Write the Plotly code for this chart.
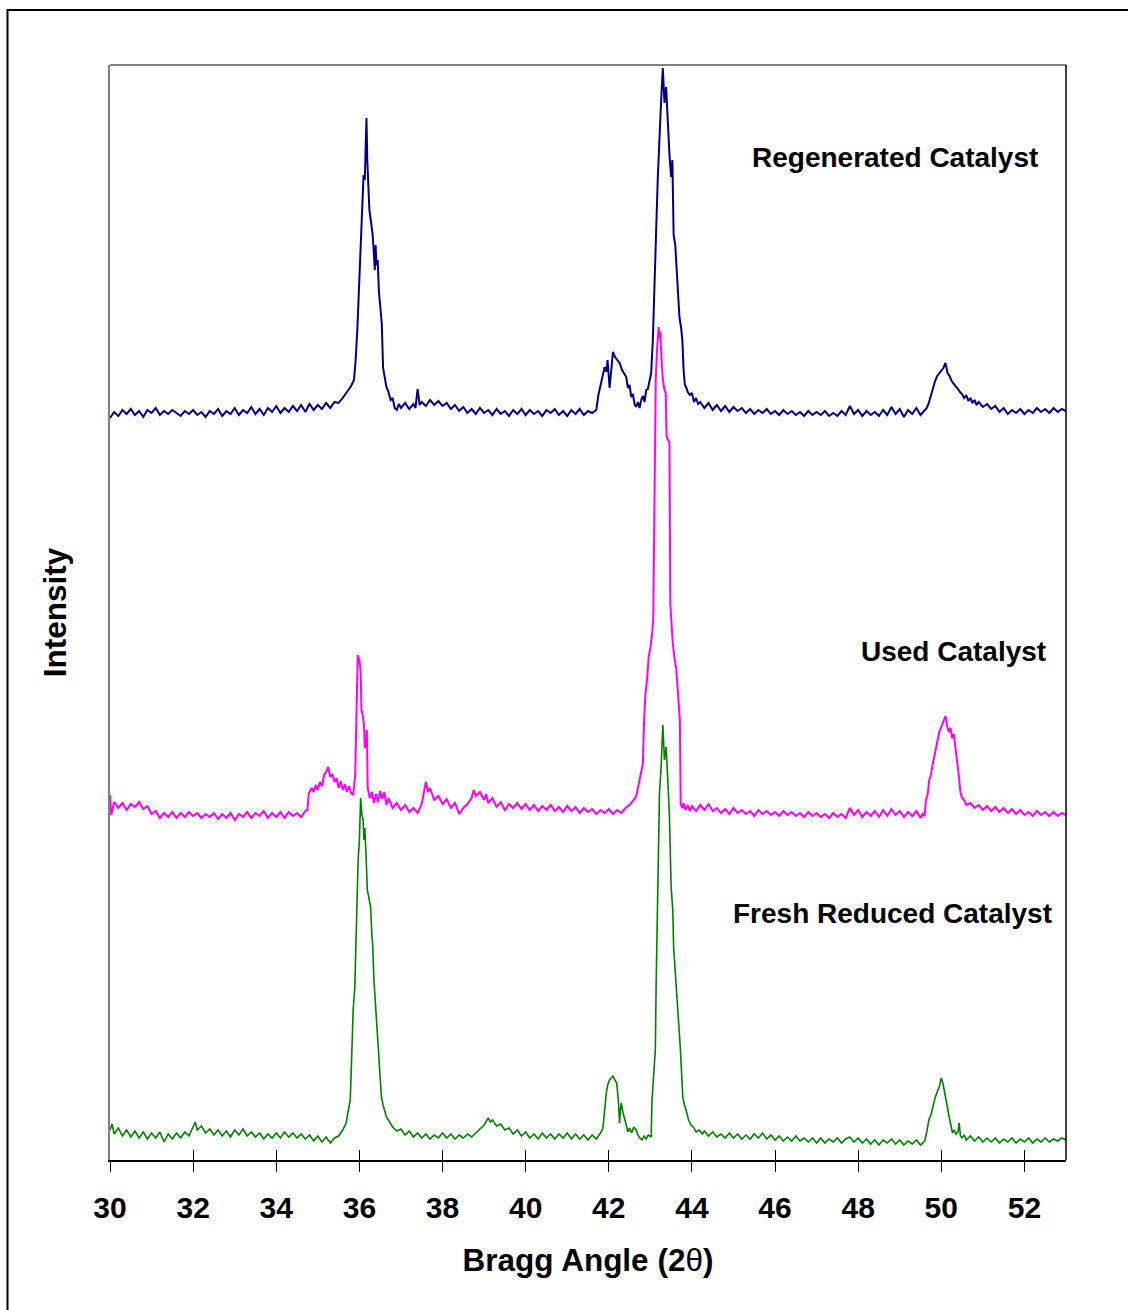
import plotly.graph_objects as go

# ---- data: (2-theta, relative intensity) ----
regen_pts = [
 (30.0,742),(30.1,748),(30.2,744),(30.3,750),(30.4,746),(30.5,751),(30.6,745),(30.7,749),(30.8,743),(30.9,750),
 (31.0,747),(31.1,752),(31.2,745),(31.3,749),(31.4,746),(31.5,750),(31.6,747),(31.7,744),(31.8,749),(31.9,746),
 (32.0,750),(32.1,745),(32.2,748),(32.3,743),(32.4,749),(32.5,746),(32.6,751),(32.7,744),(32.8,749),(32.9,746),
 (33.0,752),(33.1,745),(33.2,750),(33.3,747),(33.4,753),(33.5,746),(33.6,751),(33.7,745),(33.8,752),(33.9,748),
 (34.0,754),(34.1,747),(34.2,752),(34.3,748),(34.4,754),(34.5,749),(34.6,755),(34.7,748),(34.8,756),(34.9,750),
 (35.0,755),(35.1,751),(35.2,757),(35.3,752),(35.4,758),(35.5,757),(35.6,762),(35.7,768),(35.8,774),(35.87,780),
 (35.91,800),(35.95,830),(35.99,870),(36.03,920),(36.07,965),(36.1,985),(36.13,980),(36.15,1020),(36.17,1042),(36.19,1000),
 (36.21,983),(36.24,950),(36.28,938),(36.32,925),(36.35,905),(36.37,890),(36.39,915),(36.41,895),(36.44,900),(36.47,868),
 (36.51,850),(36.54,835),(36.57,792),(36.61,780),(36.65,773),(36.7,768),(36.75,760),(36.8,762),(36.85,752),(36.9,750),
 (36.95,756),(37.0,752),(37.1,757),(37.2,751),(37.3,756),(37.35,752),(37.4,771),(37.45,755),(37.5,758),(37.6,754),
 (37.7,760),(37.8,755),(37.9,759),(38.0,754),(38.1,757),(38.2,751),(38.3,755),(38.4,749),(38.5,753),(38.6,747),
 (38.7,751),(38.8,746),(38.9,752),(39.0,747),(39.1,750),(39.2,745),(39.3,751),(39.4,746),(39.5,749),(39.6,744),
 (39.7,750),(39.8,746),(39.9,751),(40.0,745),(40.1,750),(40.2,746),(40.3,749),(40.4,744),(40.5,750),(40.6,747),
 (40.7,751),(40.8,745),(40.9,749),(41.0,744),(41.1,750),(41.2,746),(41.3,751),(41.4,745),(41.5,749),(41.6,747),
 (41.7,750),(41.75,765),(41.8,775),(41.85,782),(41.9,793),(41.94,788),(41.97,800),(42.02,772),(42.06,795),(42.1,808),
 (42.15,803),(42.2,800),(42.26,797),(42.32,790),(42.38,786),(42.42,783),(42.46,772),(42.5,775),(42.54,763),(42.58,766),
 (42.62,756),(42.66,753),(42.7,758),(42.74,752),(42.78,760),(42.82,764),(42.86,758),(42.9,770),(42.94,771),(42.98,778),
 (43.02,787),(43.06,820),(43.1,887),(43.14,930),(43.18,983),(43.22,1027),(43.26,1060),(43.3,1092),(43.32,1070),(43.34,1057),
 (43.38,1073),(43.42,1037),(43.46,1005),(43.5,983),(43.53,1000),(43.56,925),(43.6,915),(43.63,893),(43.67,860),(43.7,843),
 (43.74,832),(43.77,820),(43.8,790),(43.83,775),(43.86,773),(43.9,768),(43.95,765),(44.0,767),(44.05,758),(44.1,762),
 (44.15,756),(44.2,758),(44.3,752),(44.4,757),(44.5,750),(44.6,755),(44.7,749),(44.8,754),(44.9,748),(45.0,753),
 (45.1,749),(45.2,752),(45.3,747),(45.4,751),(45.5,746),(45.6,750),(45.7,747),(45.8,751),(45.9,746),(46.0,749),
 (46.1,745),(46.2,750),(46.3,746),(46.4,749),(46.5,745),(46.6,748),(46.7,744),(46.8,749),(46.9,745),(47.0,748),
 (47.1,745),(47.2,749),(47.3,744),(47.4,747),(47.5,744),(47.6,749),(47.7,745),(47.8,754),(47.9,746),(48.0,750),
 (48.1,744),(48.2,749),(48.3,745),(48.4,748),(48.5,744),(48.6,750),(48.7,745),(48.8,753),(48.9,746),(49.0,751),
 (49.1,743),(49.2,750),(49.3,746),(49.4,752),(49.5,745),(49.6,750),(49.65,752),(49.7,757),(49.75,765),(49.8,772),
 (49.85,779),(49.9,784),(49.95,787),(50.0,790),(50.05,792),(50.1,797),(50.15,787),(50.2,784),(50.25,779),(50.3,776),
 (50.35,774),(50.4,771),(50.45,768),(50.5,766),(50.55,762),(50.6,765),(50.65,759),(50.7,762),(50.75,757),(50.8,760),
 (50.85,755),(50.9,758),(51.0,753),(51.1,756),(51.2,751),(51.3,754),(51.4,748),(51.5,752),(51.6,746),(51.7,750),
 (51.8,747),(51.9,751),(52.0,746),(52.1,750),(52.2,747),(52.3,752),(52.4,748),(52.5,751),(52.6,747),(52.7,752),
 (52.8,748),(52.9,751),(53.0,749),
]

used_pts = [
 (30.0,365),(30.03,345),(30.1,358),(30.2,352),(30.3,357),(30.4,350),(30.5,356),(30.6,353),(30.7,358),(30.8,351),
 (30.9,354),(31.0,346),(31.1,349),(31.2,342),(31.3,347),(31.4,343),(31.5,348),(31.6,342),(31.7,347),(31.8,343),
 (31.9,348),(32.0,344),(32.1,347),(32.2,342),(32.3,346),(32.4,343),(32.5,347),(32.6,341),(32.7,346),(32.8,342),
 (32.9,347),(33.0,340),(33.1,346),(33.2,343),(33.3,348),(33.4,342),(33.5,347),(33.6,344),(33.7,349),(33.8,342),
 (33.9,347),(34.0,343),(34.1,348),(34.2,342),(34.3,348),(34.4,344),(34.5,347),(34.6,343),(34.7,349),(34.75,350),
 (34.78,366),(34.85,372),(34.9,368),(34.95,375),(35.0,370),(35.05,378),(35.1,374),(35.15,385),(35.2,388),(35.25,393),
 (35.3,383),(35.35,386),(35.4,378),(35.45,382),(35.5,372),(35.55,379),(35.6,370),(35.65,376),(35.7,368),(35.75,374),
 (35.8,367),(35.85,365),(35.9,385),(35.93,440),(35.96,505),(36.0,500),(36.03,488),(36.05,450),(36.08,445),(36.11,435),
 (36.13,412),(36.16,418),(36.18,430),(36.2,372),(36.25,362),(36.3,368),(36.35,357),(36.4,366),(36.45,358),(36.5,369),
 (36.55,361),(36.6,368),(36.65,355),(36.7,362),(36.8,352),(36.9,357),(37.0,350),(37.1,355),(37.2,348),(37.3,352),
 (37.4,347),(37.5,356),(37.6,378),(37.65,368),(37.7,372),(37.8,360),(37.9,364),(38.0,356),(38.1,361),(38.2,352),
 (38.3,357),(38.4,346),(38.5,352),(38.6,356),(38.7,362),(38.75,370),(38.8,364),(38.9,368),(39.0,360),(39.05,366),
 (39.1,357),(39.2,362),(39.3,353),(39.4,358),(39.5,350),(39.6,356),(39.7,352),(39.8,357),(39.9,351),(40.0,356),
 (40.1,350),(40.2,355),(40.3,349),(40.4,354),(40.5,350),(40.6,355),(40.7,349),(40.8,353),(40.9,348),(41.0,354),
 (41.1,349),(41.2,353),(41.3,347),(41.4,352),(41.5,348),(41.6,351),(41.7,346),(41.8,350),(41.9,347),(42.0,351),
 (42.1,346),(42.2,350),(42.3,347),(42.4,352),(42.5,355),(42.6,360),(42.66,364),(42.7,372),(42.74,381),(42.78,388),
 (42.82,396),(42.85,440),(42.88,465),(42.92,480),(42.96,503),(43.0,512),(43.04,525),(43.07,542),(43.1,690),(43.13,780),
 (43.16,810),(43.2,833),(43.22,822),(43.24,828),(43.27,800),(43.3,781),(43.34,770),(43.37,767),(43.39,724),(43.43,720),
 (43.46,717),(43.48,556),(43.51,530),(43.54,517),(43.58,502),(43.62,492),(43.66,470),(43.69,442),(43.71,440),(43.73,356),
 (43.77,352),(43.8,357),(43.85,350),(43.9,355),(43.95,349),(44.0,354),(44.1,349),(44.2,355),(44.3,350),(44.4,356),
 (44.5,349),(44.6,352),(44.7,347),(44.8,351),(44.9,346),(45.0,352),(45.1,347),(45.2,350),(45.3,346),(45.4,349),
 (45.5,344),(45.6,350),(45.7,346),(45.8,349),(45.9,345),(46.0,348),(46.1,344),(46.2,349),(46.3,345),(46.4,348),
 (46.5,344),(46.6,347),(46.7,343),(46.8,348),(46.9,344),(47.0,347),(47.1,343),(47.2,346),(47.3,342),(47.4,347),
 (47.5,343),(47.6,346),(47.7,342),(47.8,352),(47.9,345),(48.0,350),(48.1,343),(48.2,348),(48.3,344),(48.4,349),
 (48.5,343),(48.6,350),(48.7,344),(48.8,351),(48.9,345),(49.0,349),(49.1,343),(49.2,348),(49.3,344),(49.4,349),
 (49.5,342),(49.55,346),(49.6,344),(49.63,360),(49.67,365),(49.71,380),(49.75,385),(49.79,395),(49.83,403),(49.87,412),
 (49.91,420),(49.95,428),(49.99,432),(50.03,436),(50.07,440),(50.1,444),(50.14,434),(50.18,428),(50.22,432),(50.26,422),
 (50.3,426),(50.34,414),(50.38,397),(50.42,385),(50.46,368),(50.5,362),(50.55,360),(50.6,355),(50.7,357),(50.8,352),
 (50.9,355),(51.0,350),(51.1,354),(51.2,349),(51.3,353),(51.4,348),(51.5,352),(51.6,347),(51.7,351),(51.8,346),
 (51.9,350),(52.0,345),(52.1,348),(52.2,344),(52.3,349),(52.4,345),(52.5,348),(52.6,344),(52.7,348),(52.8,344),
 (52.9,347),(53.0,345),
]

fresh_pts = [
 (30.0,30),(30.05,36),(30.1,26),(30.2,32),(30.3,24),(30.4,30),(30.5,23),(30.6,29),(30.7,22),(30.8,28),
 (30.9,21),(31.0,27),(31.1,22),(31.2,28),(31.3,18),(31.4,26),(31.5,21),(31.6,27),(31.7,22),(31.8,28),
 (31.9,24),(32.0,33),(32.05,38),(32.1,30),(32.2,34),(32.3,27),(32.4,31),(32.5,25),(32.6,30),(32.7,24),
 (32.8,29),(32.9,23),(33.0,30),(33.1,25),(33.2,31),(33.3,24),(33.4,28),(33.5,23),(33.6,27),(33.7,21),
 (33.8,26),(33.9,22),(34.0,27),(34.1,22),(34.2,28),(34.3,23),(34.4,27),(34.5,22),(34.6,26),(34.7,21),
 (34.8,25),(34.9,19),(35.0,24),(35.1,18),(35.2,23),(35.3,17),(35.4,22),(35.5,24),(35.6,30),(35.68,37),
 (35.74,50),(35.78,60),(35.81,97),(35.85,150),(35.89,173),(35.93,250),(35.97,300),(36.0,320),(36.03,362),(36.06,345),
 (36.09,340),(36.11,320),(36.13,332),(36.16,305),(36.19,270),(36.23,262),(36.27,253),(36.3,225),(36.32,215),(36.35,180),
 (36.38,160),(36.42,130),(36.46,110),(36.5,80),(36.53,63),(36.57,55),(36.61,48),(36.65,43),(36.7,40),(36.75,36),
 (36.8,33),(36.9,29),(37.0,31),(37.1,25),(37.2,29),(37.3,23),(37.4,27),(37.5,22),(37.6,26),(37.7,21),
 (37.8,25),(37.9,22),(38.0,27),(38.1,22),(38.2,26),(38.3,21),(38.4,25),(38.5,22),(38.6,26),(38.7,23),
 (38.8,27),(38.9,30),(39.0,35),(39.1,42),(39.15,38),(39.2,40),(39.3,34),(39.4,36),(39.5,30),(39.6,32),
 (39.7,26),(39.8,30),(39.9,24),(40.0,28),(40.1,22),(40.2,26),(40.3,21),(40.4,27),(40.5,22),(40.6,26),
 (40.7,21),(40.8,26),(40.9,22),(41.0,27),(41.1,21),(41.2,26),(41.3,21),(41.4,25),(41.5,20),(41.6,25),
 (41.7,21),(41.75,24),(41.8,27),(41.86,32),(41.9,50),(41.94,67),(41.98,76),(42.02,80),(42.06,82),(42.1,84),
 (42.15,80),(42.19,77),(42.23,60),(42.26,37),(42.28,50),(42.3,57),(42.34,48),(42.38,40),(42.42,35),(42.46,28),
 (42.5,32),(42.55,27),(42.6,33),(42.66,30),(42.7,25),(42.75,22),(42.8,20),(42.85,24),(42.9,21),(42.95,25),
 (43.02,23),(43.04,60),(43.06,73),(43.09,90),(43.12,110),(43.14,177),(43.18,260),(43.22,367),(43.26,393),(43.3,435),
 (43.34,400),(43.38,413),(43.42,380),(43.46,343),(43.5,273),(43.54,250),(43.56,213),(43.6,190),(43.66,157),(43.72,113),
 (43.76,80),(43.78,63),(43.82,55),(43.86,50),(43.92,40),(43.98,35),(44.05,32),(44.1,28),(44.18,30),(44.25,26),
 (44.3,29),(44.4,24),(44.5,28),(44.6,23),(44.7,26),(44.8,22),(44.9,27),(45.0,22),(45.1,26),(45.2,21),
 (45.3,25),(45.4,21),(45.5,26),(45.6,22),(45.7,27),(45.8,21),(45.9,25),(46.0,20),(46.1,24),(46.2,19),
 (46.3,23),(46.4,19),(46.5,24),(46.6,19),(46.7,22),(46.8,18),(46.9,22),(47.0,17),(47.1,22),(47.2,17),
 (47.3,21),(47.4,18),(47.5,22),(47.6,17),(47.7,21),(47.8,23),(47.9,18),(48.0,22),(48.1,17),(48.2,21),
 (48.3,16),(48.4,20),(48.5,15),(48.6,20),(48.7,17),(48.8,21),(48.9,16),(49.0,20),(49.1,15),(49.2,19),
 (49.3,16),(49.4,20),(49.5,15),(49.6,19),(49.65,28),(49.7,40),(49.75,45),(49.8,55),(49.85,62),(49.9,68),
 (49.95,73),(50.0,82),(50.03,78),(50.07,70),(50.11,60),(50.15,50),(50.19,43),(50.23,35),(50.27,27),(50.31,30),
 (50.35,26),(50.4,28),(50.43,37),(50.46,24),(50.5,22),(50.55,25),(50.6,20),(50.7,24),(50.8,19),(50.9,23),
 (51.0,18),(51.1,22),(51.2,18),(51.3,22),(51.4,17),(51.5,21),(51.6,18),(51.7,22),(51.8,17),(51.9,21),
 (52.0,18),(52.1,22),(52.2,17),(52.3,21),(52.4,18),(52.5,22),(52.6,18),(52.7,21),(52.8,19),(52.9,22),
 (53.0,20),
]

series_names = ["Regenerated Catalyst", "Used Catalyst", "Fresh Reduced Catalyst"]
series_colors = ["#000080", "#FF00FF", "#008000"]
series_widths = [2, 2, 1.6]
tick_vals = [30, 32, 34, 36, 38, 40, 42, 44, 46, 48, 50, 52]
label_x = [48.89, 50.29, 48.83]
label_y = [1003, 509, 247]

FONT = "Liberation Sans, Arial, sans-serif"

fig = go.Figure()
for pts, name, color, w in zip([regen_pts, used_pts, fresh_pts], series_names, series_colors, series_widths):
    xs = [p[0] for p in pts]
    ys = [p[1] for p in pts]
    fig.add_trace(go.Scatter(x=xs, y=ys, mode="lines", name=name,
                             line=dict(color=color, width=w), showlegend=False))

# invisible trace on overlay axis for inside ticks
fig.add_trace(go.Scatter(x=[30, 53], y=[0, 0], xaxis="x2", mode="lines",
                         line=dict(width=0), showlegend=False, hoverinfo="skip"))

for name, lx, ly in zip(series_names, label_x, label_y):
    fig.add_annotation(x=lx, y=ly, text="<b>%s</b>" % name, showarrow=False,
                       font=dict(family=FONT, size=28, color="black"), xanchor="center", yanchor="middle")

fig.update_layout(
    width=1128, height=1310,
    margin=dict(l=110, r=62, t=65, b=150),
    paper_bgcolor="white", plot_bgcolor="white",
    font=dict(family=FONT, color="black"),
    xaxis=dict(range=[30, 53], tickvals=tick_vals, ticks="outside", ticklen=10, tickwidth=1,
               tickcolor="black", showline=True, linecolor="black", linewidth=2, mirror=False,
               showgrid=False, zeroline=False, tickfont=dict(family=FONT, size=30),
               ticktext=["<b>%d</b>" % v for v in tick_vals], ticklabelstandoff=10,
               title=dict(text="<b>Bragg Angle (2</b>θ<b>)</b>", font=dict(family=FONT, size=31.5), standoff=26)),
    xaxis2=dict(range=[30, 53], overlaying="x", anchor="y", side="bottom", tickvals=tick_vals,
                ticks="inside", ticklen=10, tickwidth=1, tickcolor="black", showticklabels=False,
                showgrid=False, zeroline=False, showline=False),
    yaxis=dict(range=[0, 1095], showticklabels=False, ticks="", showgrid=False, zeroline=False,
               showline=True, linecolor="#808080", linewidth=2,
               title=dict(text="<b>Intensity</b>", font=dict(family=FONT, size=31.5), standoff=32)),
)

# plot frame: grey top, black right
fig.add_shape(type="line", xref="paper", yref="paper", x0=0, x1=1, y0=1, y1=1,
              line=dict(color="#808080", width=2))
fig.add_shape(type="line", xref="paper", yref="paper", x0=1, x1=1, y0=0, y1=1,
              line=dict(color="black", width=1.5))
# outer chart border (left and top visible)
fig.add_shape(type="rect", xref="paper", yref="paper", x0=-0.1072, x1=1.08, y0=-0.15, y1=1.0502,
              line=dict(color="black", width=2), layer="below")

fig.write_html("out.html")
